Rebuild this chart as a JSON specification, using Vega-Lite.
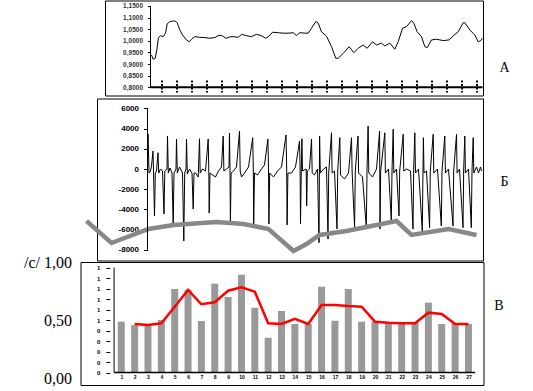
{
  "$schema": "https://vega.github.io/schema/vega-lite/v6.json",
  "background": "white",
  "padding": {"left": 16.5, "top": 0, "right": 5, "bottom": 5},
  "config": {
    "view": {"stroke": null},
    "axis": {"grid": false, "labelColor": "black", "tickColor": "black", "domainColor": "black", "labelOverlap": false, "labelFlush": false, "tickCount": 100}
  },
  "datasets": {
    "a": [{"t":5,"v":0.939},{"t":6.7,"v":0.921},{"t":8.7,"v":0.925},{"t":10.3,"v":0.961},{"t":12,"v":1.014},{"t":14,"v":1.022},{"t":16.7,"v":1.018},{"t":19,"v":1.033},{"t":20.7,"v":1.073},{"t":23.3,"v":1.083},{"t":28.3,"v":1.086},{"t":30.7,"v":1.078},{"t":33.3,"v":1.047},{"t":36,"v":1.025},{"t":40,"v":1.004},{"t":42.7,"v":0.996},{"t":45,"v":1.007},{"t":48.3,"v":1.018},{"t":53.3,"v":1.015},{"t":58.3,"v":1.014},{"t":63.3,"v":1.011},{"t":68.3,"v":1.014},{"t":72.7,"v":1.024},{"t":76,"v":1.021},{"t":79.3,"v":1.011},{"t":83.3,"v":1.017},{"t":86.7,"v":1.018},{"t":91.7,"v":1.015},{"t":95,"v":1.028},{"t":100,"v":1.022},{"t":105,"v":1.018},{"t":110,"v":1.028},{"t":115,"v":1.022},{"t":119.3,"v":1.011},{"t":122.7,"v":1.021},{"t":126,"v":1.037},{"t":131.7,"v":1.035},{"t":136.7,"v":1.033},{"t":141.7,"v":1.033},{"t":146.7,"v":1.035},{"t":150,"v":1.023},{"t":153.3,"v":1.035},{"t":158.3,"v":1.033},{"t":161.7,"v":1.033},{"t":165,"v":1.054},{"t":169.3,"v":1.083},{"t":171.7,"v":1.076},{"t":175,"v":1.039},{"t":180,"v":1.02},{"t":185,"v":0.975},{"t":189.3,"v":0.925},{"t":191.7,"v":0.925},{"t":196.7,"v":0.946},{"t":202.7,"v":0.975},{"t":207.3,"v":0.949},{"t":211.7,"v":0.968},{"t":216.7,"v":0.982},{"t":220.7,"v":0.968},{"t":226,"v":0.996},{"t":230,"v":0.982},{"t":235,"v":0.99},{"t":238.3,"v":0.978},{"t":243.3,"v":0.99},{"t":248.3,"v":0.964},{"t":251.7,"v":0.996},{"t":256,"v":1.054},{"t":260,"v":1.061},{"t":265,"v":1.087},{"t":267.3,"v":1.076},{"t":270.7,"v":1.039},{"t":275,"v":1.018},{"t":278.3,"v":0.975},{"t":280.7,"v":0.971},{"t":285,"v":1.004},{"t":290,"v":1.007},{"t":296.7,"v":1.001},{"t":302.7,"v":1.004},{"t":306.7,"v":1.021},{"t":311.7,"v":1.039},{"t":316.7,"v":1.078},{"t":318.3,"v":1.078},{"t":323.3,"v":1.047},{"t":328.3,"v":1.025},{"t":331.7,"v":0.996},{"t":334.3,"v":1.001},{"t":335.7,"v":1.011}],
    "ecg": [{"s":0,"v":0},{"s":0.5,"v":3470},{"s":1.5,"v":-400},{"s":3,"v":-200},{"s":4,"v":300},{"s":5.5,"v":1780},{"s":6,"v":-200},{"s":7,"v":-4650},{"s":7.8,"v":-400},{"s":9,"v":-200},{"s":10.5,"v":1610},{"s":11.2,"v":-400},{"s":13,"v":0},{"s":15,"v":-200},{"s":16.5,"v":-4460},{"s":17.3,"v":-200},{"s":19.5,"v":0},{"s":20,"v":3270},{"s":20.8,"v":-400},{"s":22.5,"v":100},{"s":24.5,"v":-400},{"s":25.7,"v":-5640},{"s":26.5,"v":-400},{"s":28.5,"v":0},{"s":29,"v":2970},{"s":29.8,"v":-400},{"s":32,"v":200},{"s":35,"v":-400},{"s":36.3,"v":-7130},{"s":37.2,"v":-400},{"s":38.5,"v":0},{"s":39,"v":2970},{"s":39.8,"v":-500},{"s":42,"v":0},{"s":44.5,"v":-400},{"s":45.7,"v":-3960},{"s":46.5,"v":-400},{"s":48,"v":-400},{"s":50.7,"v":-790},{"s":52,"v":3000},{"s":52.7,"v":-400},{"s":55,"v":0},{"s":58,"v":-200},{"s":60.7,"v":2970},{"s":61.3,"v":-200},{"s":61.7,"v":-4360},{"s":62.5,"v":-400},{"s":65,"v":-590},{"s":68,"v":-790},{"s":71,"v":-200},{"s":74,"v":200},{"s":75.7,"v":3270},{"s":76.4,"v":-200},{"s":79,"v":0},{"s":81.5,"v":200},{"s":82,"v":3560},{"s":82.5,"v":-200},{"s":82.9,"v":-5450},{"s":83.6,"v":-400},{"s":86,"v":-200},{"s":89,"v":200},{"s":92,"v":3760},{"s":92.7,"v":-200},{"s":94,"v":-790},{"s":97,"v":-400},{"s":101,"v":200},{"s":105.2,"v":3100},{"s":105.8,"v":0},{"s":106.2,"v":-5450},{"s":107,"v":-400},{"s":110,"v":-590},{"s":114,"v":0},{"s":117,"v":400},{"s":120.4,"v":2970},{"s":121,"v":0},{"s":121.4,"v":-5450},{"s":122.2,"v":-400},{"s":126,"v":-790},{"s":130,"v":-200},{"s":134,"v":200},{"s":138.5,"v":3370},{"s":139.2,"v":0},{"s":139.6,"v":-5540},{"s":140.4,"v":-400},{"s":144,"v":-400},{"s":148,"v":200},{"s":152,"v":2770},{"s":152.6,"v":0},{"s":153,"v":-5450},{"s":153.8,"v":0},{"s":154.4,"v":3000},{"s":155,"v":-200},{"s":158.7,"v":0},{"s":159.2,"v":-3660},{"s":159.8,"v":-200},{"s":162,"v":0},{"s":164,"v":2970},{"s":164.7,"v":-400},{"s":167,"v":-590},{"s":170,"v":0},{"s":171.5,"v":-7300},{"s":172.1,"v":3270},{"s":172.8,"v":-400},{"s":176,"v":0},{"s":179,"v":200},{"s":180.5,"v":-6930},{"s":181.2,"v":-400},{"s":184,"v":3590},{"s":184.6,"v":-400},{"s":187,"v":-200},{"s":189.5,"v":-5940},{"s":190.2,"v":-200},{"s":192.3,"v":3100},{"s":193,"v":-590},{"s":197,"v":-990},{"s":201,"v":-400},{"s":204,"v":3100},{"s":204.6,"v":-200},{"s":207.1,"v":-5810},{"s":207.8,"v":-200},{"s":210.5,"v":3270},{"s":211.1,"v":-400},{"s":215,"v":-790},{"s":218.8,"v":-5810},{"s":219.5,"v":-200},{"s":220.6,"v":4260},{"s":221.3,"v":-400},{"s":225,"v":-790},{"s":229,"v":0},{"s":232.1,"v":3760},{"s":232.5,"v":-5940},{"s":233.2,"v":-200},{"s":237.3,"v":3590},{"s":237.9,"v":-400},{"s":241,"v":0},{"s":243.8,"v":-5150},{"s":244.5,"v":-200},{"s":245.7,"v":3930},{"s":246.3,"v":-400},{"s":249,"v":0},{"s":251.5,"v":-4650},{"s":252.2,"v":-200},{"s":255.7,"v":3440},{"s":256.3,"v":-200},{"s":259,"v":0},{"s":263,"v":-200},{"s":265.5,"v":-5940},{"s":266.2,"v":0},{"s":267.3,"v":3590},{"s":268,"v":-400},{"s":271,"v":0},{"s":274.8,"v":-6140},{"s":275.5,"v":0},{"s":275.9,"v":3100},{"s":276.5,"v":-400},{"s":279,"v":-200},{"s":282.1,"v":-5810},{"s":282.8,"v":-200},{"s":285.7,"v":3440},{"s":286.3,"v":-400},{"s":290,"v":0},{"s":293.8,"v":-5640},{"s":294.5,"v":-200},{"s":297.3,"v":3270},{"s":297.9,"v":-400},{"s":301,"v":0},{"s":305.5,"v":-5640},{"s":306.2,"v":-200},{"s":309,"v":3440},{"s":309.6,"v":-400},{"s":312,"v":0},{"s":315.5,"v":-5810},{"s":316.2,"v":0},{"s":317.3,"v":3270},{"s":317.9,"v":-400},{"s":321,"v":0},{"s":323.8,"v":-5810},{"s":324.5,"v":-200},{"s":325.7,"v":3100},{"s":326.3,"v":-400},{"s":329,"v":200},{"s":331,"v":-400},{"s":333,"v":200},{"s":334,"v":-200}],
    "gray": [{"s":-61,"v":-5150},{"s":-36,"v":-7330},{"s":1,"v":-5940},{"s":26,"v":-5545},{"s":69,"v":-5250},{"s":96,"v":-5445},{"s":121,"v":-5940},{"s":146,"v":-8120},{"s":159,"v":-7430},{"s":172,"v":-6530},{"s":199,"v":-6140},{"s":229,"v":-5545},{"s":249,"v":-5150},{"s":264,"v":-6530},{"s":301,"v":-5940},{"s":329,"v":-6530}],
    "bars": [{"n":1,"v":0.484},{"n":2,"v":0.452},{"n":3,"v":0.452},{"n":4,"v":0.5},{"n":5,"v":0.795},{"n":6,"v":0.786},{"n":7,"v":0.49},{"n":8,"v":0.846},{"n":9,"v":0.719},{"n":10,"v":0.931},{"n":11,"v":0.617},{"n":12,"v":0.331},{"n":13,"v":0.586},{"n":14,"v":0.462},{"n":15,"v":0.462},{"n":16,"v":0.817},{"n":17,"v":0.493},{"n":18,"v":0.795},{"n":19,"v":0.484},{"n":20,"v":0.484},{"n":21,"v":0.471},{"n":22,"v":0.471},{"n":23,"v":0.474},{"n":24,"v":0.665},{"n":25,"v":0.462},{"n":26,"v":0.471},{"n":27,"v":0.462}],
    "red": [{"n":2,"v":0.462},{"n":3,"v":0.452},{"n":4,"v":0.469},{"n":5,"v":0.627},{"n":6,"v":0.786},{"n":7,"v":0.65},{"n":8,"v":0.669},{"n":9,"v":0.779},{"n":10,"v":0.811},{"n":11,"v":0.77},{"n":12,"v":0.469},{"n":13,"v":0.462},{"n":14,"v":0.51},{"n":15,"v":0.462},{"n":16,"v":0.643},{"n":17,"v":0.643},{"n":18,"v":0.633},{"n":19,"v":0.627},{"n":20,"v":0.484},{"n":21,"v":0.474},{"n":22,"v":0.469},{"n":23,"v":0.469},{"n":24,"v":0.57},{"n":25,"v":0.557},{"n":26,"v":0.462},{"n":27,"v":0.462}]
  },
  "spacing": 1,
  "vconcat": [
    {
      "width": 403,
      "height": 95,
      "layer": [
        {"data": {"values": [{}]}, "mark": {"type": "rect", "filled": false, "color": "black", "strokeWidth": 1}, "encoding": {"x": {"datum": -41}, "x2": {"datum": 337}, "y": {"datum": 0.7625}, "y2": {"datum": 1.1715}}},
        {
          "data": {"name": "a"},
          "mark": {"type": "line", "color": "black", "strokeWidth": 1},
          "encoding": {
            "x": {"field": "t", "type": "quantitative", "scale": {"domain": [-66, 337], "nice": false, "zero": false},
              "axis": {"orient": "bottom", "offset": -16, "domain": false, "labels": false, "values": [15,30,45,60,75,90,105,120,135,150,165,180,195,210,225,240,255,270,285,300,315,330], "tickCount": 100, "tickSize": 12, "tickWidth": 2, "tickDash": [2, 1.5], "title": null}},
            "y": {"field": "v", "type": "quantitative", "scale": {"domain": [0.7625, 1.1715], "nice": false, "zero": false},
              "axis": {"orient": "left", "offset": -70, "domain": false, "values": [0.8,0.85,0.9,0.95,1,1.05,1.1,1.15], "tickCount": 100, "labelExpr": "replace(format(datum.value, '.4f'), '.', ',')", "labelFont": "Liberation Sans", "labelFontSize": 6.5, "labelFontWeight": "bold", "labelColor": "#333333", "tickSize": 3, "labelPadding": 5, "title": null}}
          }
        },
        {"data": {"values": [{}]}, "mark": {"type": "rule", "color": "black", "strokeWidth": 1}, "encoding": {"x": {"datum": 4}, "y": {"datum": 0.8}, "y2": {"datum": 1.15}}},
        {"data": {"values": [{}]}, "mark": {"type": "rule", "color": "black", "strokeWidth": 2}, "encoding": {"x": {"datum": 4}, "x2": {"datum": 336}, "y": {"datum": 0.8}}},
        {"data": {"values": [{}]}, "mark": {"type": "text", "text": "А", "font": "Liberation Serif", "fontSize": 14, "color": "black"}, "encoding": {"x": {"datum": 358}, "y": {"datum": 0.881}}}
      ]
    },
    {
      "spacing": -10,
      "vconcat": [
        {
          "width": 403,
          "height": 162,
          "layer": [
            {"data": {"values": [{}]}, "mark": {"type": "rect", "filled": false, "color": "black", "strokeWidth": 1}, "encoding": {"x": {"datum": -50, "axis": null}, "x2": {"datum": 336}, "y": {"datum": -9108}, "y2": {"datum": 6930}}},
            {
              "data": {"name": "ecg"},
              "mark": {"type": "line", "color": "black", "strokeWidth": 1},
              "encoding": {
                "x": {"field": "s", "type": "quantitative", "scale": {"domain": [-67, 336], "nice": false, "zero": false}, "axis": null},
                "y": {"field": "v", "type": "quantitative", "scale": {"domain": [-9108, 6930], "nice": false, "zero": false},
                  "axis": {"orient": "left", "offset": -67, "domain": false, "values": [-8000,-6000,-4000,-2000,0,2000,4000,6000], "tickCount": 100, "labelExpr": "datum.value + ''", "labelFont": "Liberation Sans", "labelFontSize": 8, "labelFontWeight": "bold", "tickSize": 4, "labelPadding": 5, "title": null}}
              }
            },
            {
              "data": {"name": "gray"},
              "mark": {"type": "line", "color": "#888888", "strokeWidth": 4.5},
              "encoding": {"x": {"field": "s", "type": "quantitative", "axis": null}, "y": {"field": "v", "type": "quantitative"}}
            },
            {"data": {"values": [{}]}, "mark": {"type": "rule", "color": "black", "strokeWidth": 1}, "encoding": {"x": {"datum": 0, "axis": null}, "y": {"datum": 6000}, "y2": {"datum": -8000}}},
            {"data": {"values": [{}]}, "mark": {"type": "text", "text": "Б", "font": "Liberation Serif", "fontSize": 14, "color": "black"}, "encoding": {"x": {"datum": 357, "axis": null}, "y": {"datum": -1336}}}
          ]
        },
        {
          "width": 403,
          "height": 123,
          "view": {"stroke": "black", "strokeWidth": 1},
          "resolve": {"scale": {"y": "independent"}},
          "layer": [
            {
              "layer": [
                {
                  "data": {"name": "bars"},
                  "mark": {"type": "bar", "color": "#999999", "width": 7},
                  "encoding": {
                    "x": {"field": "n", "type": "quantitative", "scale": {"domain": [-1.68, 27.753], "nice": false, "zero": false},
                      "axis": {"orient": "bottom", "offset": -12.5, "domain": false, "ticks": false, "tickSize": 0, "values": [1,2,3,4,5,6,7,8,9,10,11,12,13,14,15,16,17,18,19,20,21,22,23,24,25,26,27], "tickCount": 100, "format": "d", "labelFont": "Liberation Sans", "labelFontSize": 5, "labelFontWeight": "bold", "labelPadding": 2, "title": null}},
                    "y": {"field": "v", "type": "quantitative", "scale": {"domain": [-0.119, 1.0524], "nice": false, "zero": false},
                      "axis": {"orient": "left", "offset": -29.3, "domain": false, "values": [0,0.1,0.2,0.3,0.4,0.5,0.6,0.7,0.8,0.9,1], "tickCount": 100, "format": ".0f", "labelFont": "Liberation Sans", "labelFontSize": 6, "labelFontWeight": "bold", "tickSize": 4, "labelPadding": 6, "title": null}},
                    "y2": {"datum": 0}
                  }
                },
                {
                  "data": {"name": "red"},
                  "mark": {"type": "line", "color": "#ff0000", "strokeWidth": 2.5},
                  "encoding": {"x": {"field": "n", "type": "quantitative"}, "y": {"field": "v", "type": "quantitative"}}
                },
                {"data": {"values": [{}]}, "mark": {"type": "rule", "color": "black", "strokeWidth": 1}, "encoding": {"x": {"datum": 0.46}, "y": {"datum": 0}, "y2": {"datum": 1.0}}},
                {"data": {"values": [{}]}, "mark": {"type": "rule", "color": "black", "strokeWidth": 1.5}, "encoding": {"x": {"datum": 0.46}, "x2": {"datum": 27.5}, "y": {"datum": 0}}},
                {"data": {"values": [{}]}, "mark": {"type": "rule", "color": "black", "strokeOpacity": 0}, "encoding": {"x": {"datum": -6.792}, "y": {"datum": 0.3}, "y2": {"datum": 0.5}}},
                {"data": {"values": [{}]}, "mark": {"type": "text", "text": "В", "font": "Liberation Serif", "fontSize": 14, "color": "black"}, "encoding": {"x": {"datum": 29.29}, "y": {"datum": 0.629}}}
              ]
            },
            {
              "data": {"values": [{}]},
              "mark": {"type": "point", "opacity": 0},
              "encoding": {
                "y": {"datum": 0.5, "type": "quantitative", "scale": {"domain": [-0.0513, 1.0], "nice": false, "zero": false},
                  "axis": {"orient": "left", "domain": false, "ticks": false, "values": [0, 0.5, 1], "tickCount": 100, "labelExpr": "datum.value == 1 ? '/c/ 1,00' : replace(format(datum.value, '.2f'), '.', ',')", "labelFont": "Liberation Serif", "labelFontSize": 16, "labelPadding": 9, "labelColor": "black", "title": null}}
              }
            }
          ]
        }
      ]
    }
  ]
}
